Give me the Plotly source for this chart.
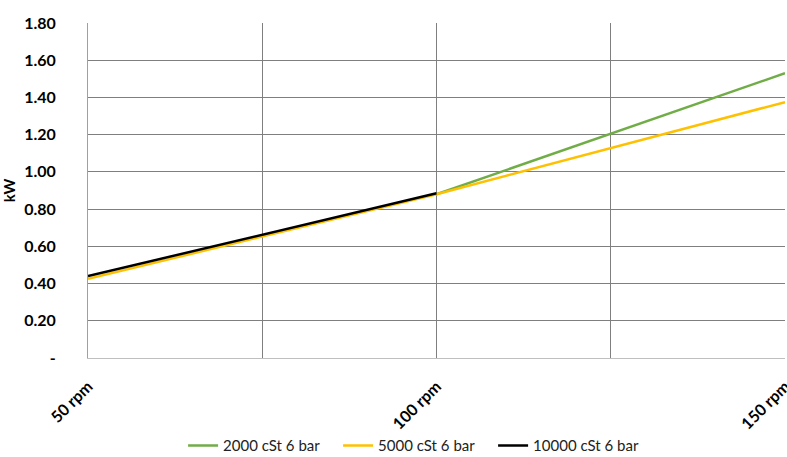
import plotly.graph_objects as go

rpm = [50, 100, 150]
tick_vals = [50, 75, 100, 125, 150]
tick_text = ["50 rpm", "", "100 rpm", "", "150 rpm"]
y_tick_vals = [0, 0.2, 0.4, 0.6, 0.8, 1.0, 1.2, 1.4, 1.6, 1.8]
y_tick_text = ["-", "0.20", "0.40", "0.60", "0.80", "1.00", "1.20", "1.40", "1.60", "1.80"]

s2000 = [None, 0.88, 1.53]
s5000 = [0.425, 0.88, 1.375]
s10000 = [0.44, 0.885, None]

fig = go.Figure()
fig.add_trace(go.Scatter(x=rpm, y=s2000, mode="lines", name="2000 cSt 6 bar",
                         line=dict(color="#70AD47", width=2.5)))
fig.add_trace(go.Scatter(x=rpm, y=s5000, mode="lines", name="5000 cSt 6 bar",
                         line=dict(color="#FFC000", width=2.5)))
fig.add_trace(go.Scatter(x=rpm, y=s10000, mode="lines", name="10000 cSt 6 bar",
                         line=dict(color="#000000", width=2.5)))

font = "Lato, Open Sans, sans-serif"
fig.update_layout(
    width=787, height=457, autosize=False,
    margin=dict(l=88, r=2, t=23, b=99, autoexpand=False),
    plot_bgcolor="white", paper_bgcolor="white",
    font=dict(family=font, size=15, color="#000000"),
    showlegend=True,
    legend=dict(orientation="h", x=0.47, xanchor="center", y=-0.262, yanchor="middle",
                font=dict(size=15, color="#222222"), traceorder="normal",
                itemwidth=30, entrywidth=110, entrywidthmode="pixels"),
    xaxis=dict(range=[50, 150], tickmode="array", tickvals=tick_vals, ticktext=tick_text,
               tickangle=-45, showgrid=True, gridcolor="#7f7f7f", gridwidth=1,
               showline=True, linecolor="#bfbfbf", zeroline=False, automargin=False,
               ticklabeloverflow="allow",
               tickfont=dict(family=font, size=16, color="#000000", weight="bold"),
               ticks="", ticklabelstandoff=12),
    yaxis=dict(range=[0, 1.8], tickmode="array", tickvals=y_tick_vals, ticktext=y_tick_text,
               showgrid=True, gridcolor="#7f7f7f", gridwidth=1,
               showline=True, linecolor="#a0a0a0", zeroline=False, automargin=False,
               tickfont=dict(family=font, size=16, color="#000000", weight="bold"),
               title=dict(text="kW", font=dict(family=font, size=15, weight="bold"), standoff=8),
               ticks="", ticklabelstandoff=28),
)
fig.write_html("out.html", config={"responsive": False, "displayModeBar": False},
               default_width="787px", default_height="457px",
               post_script="document.body.style.margin='0';document.body.style.overflow='hidden';")
